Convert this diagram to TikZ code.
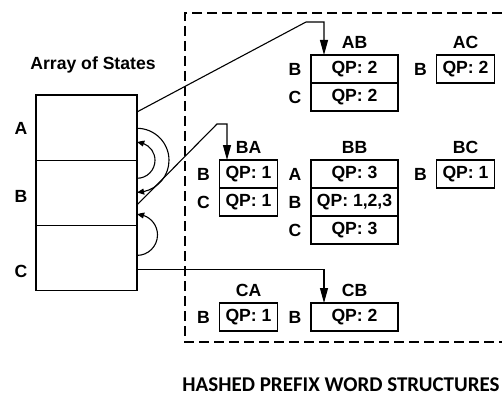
\documentclass[tikz,border=0pt]{standalone}
\usepackage{fontspec}
\setmainfont{Liberation Sans}
\newfontfamily\captionfont{Carlito}
\usetikzlibrary{arrows.meta, bending, positioning}

\begin{document}
\begin{tikzpicture}[x=1pt, y=-1pt, line width=1.1pt,
    font=\fontsize{17.6}{19}\selectfont\bfseries,
    cell/.style={draw, minimum width=87pt, minimum height=28pt, inner sep=0pt, outer sep=0pt},
    smallcell/.style={cell, minimum width=58pt},
    statecell/.style={draw, minimum width=101pt, minimum height=65.3pt, inner sep=0pt, outer sep=0pt},
    lbl/.style={inner sep=0pt},
    ptr/.style={-{Triangle[length=15pt, width=8pt]}},
    loopptr/.style={-{Triangle[length=7pt, width=6pt, bend]}}]
    \useasboundingbox (0,0) rectangle (502,398);

    % array of states
    \node[lbl] (title) at (93,65) {Array of States};
    \node[statecell, anchor=north west] (sa) at (36,95) {};
    \node[statecell, below=0pt of sa] (sb) {};
    \node[statecell, below=0pt of sb] (sc) {};
    \node[lbl, anchor=east] (la) at (28,128.5) {A};
    \node[lbl, anchor=east] (lb) at (28,196) {B};
    \node[lbl, anchor=east] (lc) at (28,271) {C};

    % hashed prefix words
    \draw[dash pattern=on 10pt off 5pt] (502,13) -- (185,13) -- (185,342) -- (502,342);

    \node[cell] (ab1) at (354.5,69) {QP: 2};
    \node[cell, below=0pt of ab1] (ab2) {QP: 2};
    \node[lbl, above=6pt of ab1] (tab) {AB};
    \node[lbl, left=9pt of ab1] (rab1) {B};
    \node[lbl, left=9pt of ab2] (rab2) {C};

    \node[smallcell] (ac1) at (465.5,69) {QP: 2};
    \node[lbl, above=6pt of ac1] (tac) {AC};
    \node[lbl, left=9pt of ac1] (rac1) {B};

    \node[smallcell] (ba1) at (248.5,174) {QP: 1};
    \node[smallcell, below=0pt of ba1] (ba2) {QP: 1};
    \node[lbl, above=6pt of ba1] (tba) {BA};
    \node[lbl, left=9pt of ba1] (rba1) {B};
    \node[lbl, left=9pt of ba2] (rba2) {C};

    \node[cell] (bb1) at (354.5,174) {QP: 3};
    \node[cell, below=0pt of bb1] (bb2) {QP: 1,2,3};
    \node[cell, below=0pt of bb2] (bb3) {QP: 3};
    \node[lbl, above=6pt of bb1] (tbb) {BB};
    \node[lbl, left=9pt of bb1] (rbb1) {A};
    \node[lbl, left=9pt of bb2] (rbb2) {B};
    \node[lbl, left=9pt of bb3] (rbb3) {C};

    \node[smallcell] (bc1) at (465.5,174) {QP: 1};
    \node[lbl, above=6pt of bc1] (tbc) {BC};
    \node[lbl, left=9pt of bc1] (rbc1) {B};

    \node[smallcell] (ca1) at (248.5,317) {QP: 1};
    \node[lbl, above=6pt of ca1] (tca) {CA};
    \node[lbl, left=9pt of ca1] (rca1) {B};

    \node[cell] (cb1) at (354.5,317) {QP: 2};
    \node[lbl, above=6pt of cb1] (tcb) {CB};
    \node[lbl, left=9pt of cb1] (rcb1) {B};

    % pointers
    \draw[ptr] ([yshift=15.7pt]sa.east) -- (306,22) -| ([xshift=-30.5pt]ab1.north);
    \draw[ptr] ([yshift=-12pt]sb.east) -- (217,124) -| ([xshift=-21.5pt]ba1.north);
    \draw[ptr] ([yshift=-11.3pt]sc.east) -| ([xshift=-30.5pt]cb1.north);

    % loops
    \draw[loopptr] ([yshift=32pt]sa.south east) arc[start angle=90, end angle=-90, radius=32pt];
    \draw[loopptr] ([yshift=-18pt]sa.south east) arc[start angle=-90, end angle=90, radius=18pt];
    \draw[loopptr] ([yshift=-29.8pt]sc.north east) arc[start angle=-90, end angle=90, radius=20.5pt];

    \node[lbl, font=\captionfont\fontsize{21}{23}\selectfont\bfseries] (caption) at (341,385) {HASHED PREFIX WORD STRUCTURES};
\end{tikzpicture}
\end{document}
